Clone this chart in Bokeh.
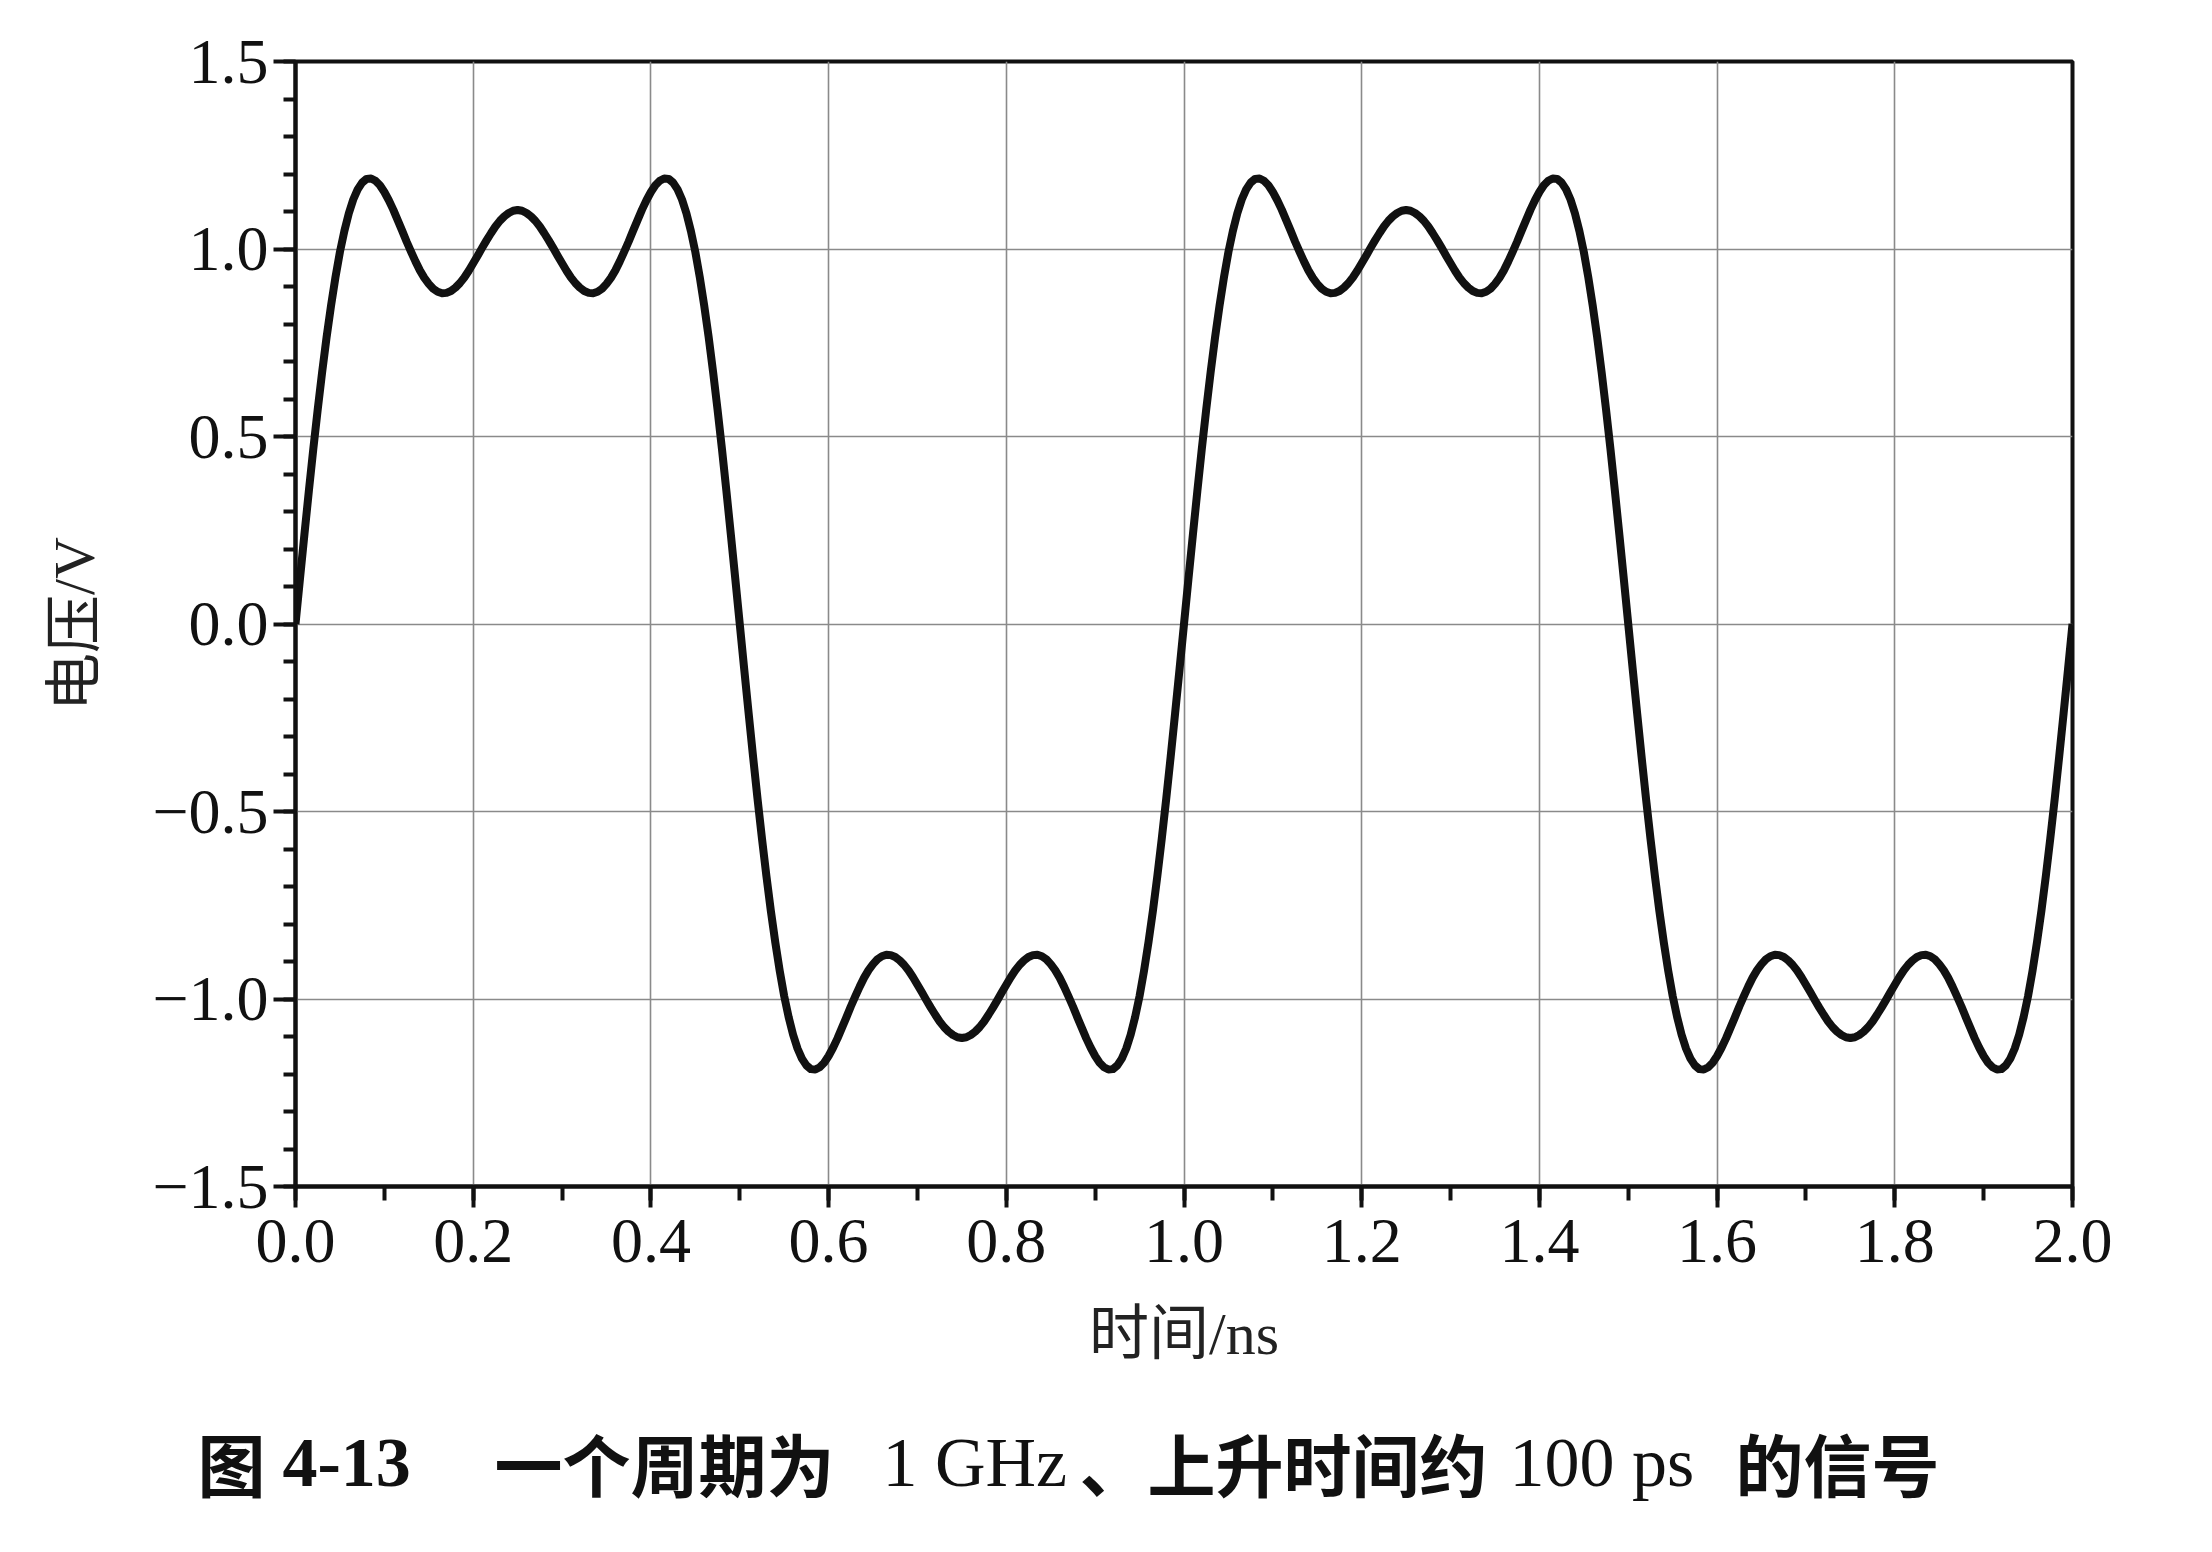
from bokeh.plotting import figure
from bokeh.models import SingleIntervalTicker, Range1d
from bokeh.layouts import column
from bokeh.core.properties import value
from bokeh.embed import file_html
from bokeh.resources import INLINE

# ---- data (time in ns, voltage in V) ----
time_ns = [
    0.000, 0.005, 0.010, 0.015, 0.020, 0.025, 0.030, 0.035, 0.040, 0.045,
    0.050, 0.055, 0.060, 0.065, 0.070, 0.075, 0.080, 0.085, 0.090, 0.095,
    0.100, 0.105, 0.110, 0.115, 0.120, 0.125, 0.130, 0.135, 0.140, 0.145,
    0.150, 0.155, 0.160, 0.165, 0.170, 0.175, 0.180, 0.185, 0.190, 0.195,
    0.200, 0.205, 0.210, 0.215, 0.220, 0.225, 0.230, 0.235, 0.240, 0.245,
    0.250, 0.255, 0.260, 0.265, 0.270, 0.275, 0.280, 0.285, 0.290, 0.295,
    0.300, 0.305, 0.310, 0.315, 0.320, 0.325, 0.330, 0.335, 0.340, 0.345,
    0.350, 0.355, 0.360, 0.365, 0.370, 0.375, 0.380, 0.385, 0.390, 0.395,
    0.400, 0.405, 0.410, 0.415, 0.420, 0.425, 0.430, 0.435, 0.440, 0.445,
    0.450, 0.455, 0.460, 0.465, 0.470, 0.475, 0.480, 0.485, 0.490, 0.495,
    0.500, 0.505, 0.510, 0.515, 0.520, 0.525, 0.530, 0.535, 0.540, 0.545,
    0.550, 0.555, 0.560, 0.565, 0.570, 0.575, 0.580, 0.585, 0.590, 0.595,
    0.600, 0.605, 0.610, 0.615, 0.620, 0.625, 0.630, 0.635, 0.640, 0.645,
    0.650, 0.655, 0.660, 0.665, 0.670, 0.675, 0.680, 0.685, 0.690, 0.695,
    0.700, 0.705, 0.710, 0.715, 0.720, 0.725, 0.730, 0.735, 0.740, 0.745,
    0.750, 0.755, 0.760, 0.765, 0.770, 0.775, 0.780, 0.785, 0.790, 0.795,
    0.800, 0.805, 0.810, 0.815, 0.820, 0.825, 0.830, 0.835, 0.840, 0.845,
    0.850, 0.855, 0.860, 0.865, 0.870, 0.875, 0.880, 0.885, 0.890, 0.895,
    0.900, 0.905, 0.910, 0.915, 0.920, 0.925, 0.930, 0.935, 0.940, 0.945,
    0.950, 0.955, 0.960, 0.965, 0.970, 0.975, 0.980, 0.985, 0.990, 0.995,
    1.000, 1.005, 1.010, 1.015, 1.020, 1.025, 1.030, 1.035, 1.040, 1.045,
    1.050, 1.055, 1.060, 1.065, 1.070, 1.075, 1.080, 1.085, 1.090, 1.095,
    1.100, 1.105, 1.110, 1.115, 1.120, 1.125, 1.130, 1.135, 1.140, 1.145,
    1.150, 1.155, 1.160, 1.165, 1.170, 1.175, 1.180, 1.185, 1.190, 1.195,
    1.200, 1.205, 1.210, 1.215, 1.220, 1.225, 1.230, 1.235, 1.240, 1.245,
    1.250, 1.255, 1.260, 1.265, 1.270, 1.275, 1.280, 1.285, 1.290, 1.295,
    1.300, 1.305, 1.310, 1.315, 1.320, 1.325, 1.330, 1.335, 1.340, 1.345,
    1.350, 1.355, 1.360, 1.365, 1.370, 1.375, 1.380, 1.385, 1.390, 1.395,
    1.400, 1.405, 1.410, 1.415, 1.420, 1.425, 1.430, 1.435, 1.440, 1.445,
    1.450, 1.455, 1.460, 1.465, 1.470, 1.475, 1.480, 1.485, 1.490, 1.495,
    1.500, 1.505, 1.510, 1.515, 1.520, 1.525, 1.530, 1.535, 1.540, 1.545,
    1.550, 1.555, 1.560, 1.565, 1.570, 1.575, 1.580, 1.585, 1.590, 1.595,
    1.600, 1.605, 1.610, 1.615, 1.620, 1.625, 1.630, 1.635, 1.640, 1.645,
    1.650, 1.655, 1.660, 1.665, 1.670, 1.675, 1.680, 1.685, 1.690, 1.695,
    1.700, 1.705, 1.710, 1.715, 1.720, 1.725, 1.730, 1.735, 1.740, 1.745,
    1.750, 1.755, 1.760, 1.765, 1.770, 1.775, 1.780, 1.785, 1.790, 1.795,
    1.800, 1.805, 1.810, 1.815, 1.820, 1.825, 1.830, 1.835, 1.840, 1.845,
    1.850, 1.855, 1.860, 1.865, 1.870, 1.875, 1.880, 1.885, 1.890, 1.895,
    1.900, 1.905, 1.910, 1.915, 1.920, 1.925, 1.930, 1.935, 1.940, 1.945,
    1.950, 1.955, 1.960, 1.965, 1.970, 1.975, 1.980, 1.985, 1.990, 1.995,
    2.000,
]

voltage_v = [
    0.000, 0.120, 0.238, 0.354, 0.466, 0.572, 0.672, 0.765, 0.849, 0.925,
    0.992, 1.048, 1.095, 1.132, 1.159, 1.177, 1.187, 1.188, 1.182, 1.170,
    1.152, 1.130, 1.105, 1.077, 1.049, 1.020, 0.993, 0.967, 0.943, 0.923,
    0.907, 0.894, 0.886, 0.882, 0.883, 0.888, 0.897, 0.909, 0.924, 0.942,
    0.962, 0.982, 1.003, 1.023, 1.042, 1.060, 1.075, 1.087, 1.096, 1.102,
    1.104, 1.102, 1.096, 1.087, 1.075, 1.060, 1.042, 1.023, 1.003, 0.982,
    0.962, 0.942, 0.924, 0.909, 0.897, 0.888, 0.883, 0.882, 0.886, 0.894,
    0.907, 0.923, 0.943, 0.967, 0.993, 1.020, 1.049, 1.077, 1.105, 1.130,
    1.152, 1.170, 1.182, 1.188, 1.187, 1.177, 1.159, 1.132, 1.095, 1.048,
    0.992, 0.925, 0.849, 0.765, 0.672, 0.572, 0.466, 0.354, 0.238, 0.120,
    0.000, -0.120, -0.238, -0.354, -0.466, -0.572, -0.672, -0.765, -0.849, -0.925,
    -0.992, -1.048, -1.095, -1.132, -1.159, -1.177, -1.187, -1.188, -1.182, -1.170,
    -1.152, -1.130, -1.105, -1.077, -1.049, -1.020, -0.993, -0.967, -0.943, -0.923,
    -0.907, -0.894, -0.886, -0.882, -0.883, -0.888, -0.897, -0.909, -0.924, -0.942,
    -0.962, -0.982, -1.003, -1.023, -1.042, -1.060, -1.075, -1.087, -1.096, -1.102,
    -1.104, -1.102, -1.096, -1.087, -1.075, -1.060, -1.042, -1.023, -1.003, -0.982,
    -0.962, -0.942, -0.924, -0.909, -0.897, -0.888, -0.883, -0.882, -0.886, -0.894,
    -0.907, -0.923, -0.943, -0.967, -0.993, -1.020, -1.049, -1.077, -1.105, -1.130,
    -1.152, -1.170, -1.182, -1.188, -1.187, -1.177, -1.159, -1.132, -1.095, -1.048,
    -0.992, -0.925, -0.849, -0.765, -0.672, -0.572, -0.466, -0.354, -0.238, -0.120,
    0.000, 0.120, 0.238, 0.354, 0.466, 0.572, 0.672, 0.765, 0.849, 0.925,
    0.992, 1.048, 1.095, 1.132, 1.159, 1.177, 1.187, 1.188, 1.182, 1.170,
    1.152, 1.130, 1.105, 1.077, 1.049, 1.020, 0.993, 0.967, 0.943, 0.923,
    0.907, 0.894, 0.886, 0.882, 0.883, 0.888, 0.897, 0.909, 0.924, 0.942,
    0.962, 0.982, 1.003, 1.023, 1.042, 1.060, 1.075, 1.087, 1.096, 1.102,
    1.104, 1.102, 1.096, 1.087, 1.075, 1.060, 1.042, 1.023, 1.003, 0.982,
    0.962, 0.942, 0.924, 0.909, 0.897, 0.888, 0.883, 0.882, 0.886, 0.894,
    0.907, 0.923, 0.943, 0.967, 0.993, 1.020, 1.049, 1.077, 1.105, 1.130,
    1.152, 1.170, 1.182, 1.188, 1.187, 1.177, 1.159, 1.132, 1.095, 1.048,
    0.992, 0.925, 0.849, 0.765, 0.672, 0.572, 0.466, 0.354, 0.238, 0.120,
    0.000, -0.120, -0.238, -0.354, -0.466, -0.572, -0.672, -0.765, -0.849, -0.925,
    -0.992, -1.048, -1.095, -1.132, -1.159, -1.177, -1.187, -1.188, -1.182, -1.170,
    -1.152, -1.130, -1.105, -1.077, -1.049, -1.020, -0.993, -0.967, -0.943, -0.923,
    -0.907, -0.894, -0.886, -0.882, -0.883, -0.888, -0.897, -0.909, -0.924, -0.942,
    -0.962, -0.982, -1.003, -1.023, -1.042, -1.060, -1.075, -1.087, -1.096, -1.102,
    -1.104, -1.102, -1.096, -1.087, -1.075, -1.060, -1.042, -1.023, -1.003, -0.982,
    -0.962, -0.942, -0.924, -0.909, -0.897, -0.888, -0.883, -0.882, -0.886, -0.894,
    -0.907, -0.923, -0.943, -0.967, -0.993, -1.020, -1.049, -1.077, -1.105, -1.130,
    -1.152, -1.170, -1.182, -1.188, -1.187, -1.177, -1.159, -1.132, -1.095, -1.048,
    -0.992, -0.925, -0.849, -0.765, -0.672, -0.572, -0.466, -0.354, -0.238, -0.120,
    0.000,
]

x_tick_values = [0.0, 0.2, 0.4, 0.6, 0.8, 1.0, 1.2, 1.4, 1.6, 1.8, 2.0]
x_tick_labels = ["0.0", "0.2", "0.4", "0.6", "0.8", "1.0", "1.2", "1.4", "1.6", "1.8", "2.0"]
y_tick_values = [-1.5, -1.0, -0.5, 0.0, 0.5, 1.0, 1.5]
y_tick_labels = ["\u22121.5", "\u22121.0", "\u22120.5", "0.0", "0.5", "1.0", "1.5"]

x_label = "时间/ns"
y_label = "电压/V"
caption_parts = ["图", "4-13", "一个周期为", "1 GHz", "、上升时间约", "100 ps", "的信号"]

SERIF = "Liberation Serif"
CJK = "Noto Sans CJK SC"

W = 2196
H_MAIN = 1405
H_CAP = 140

p = figure(width=W, height=H_MAIN, output_backend="svg", toolbar_location=None,
           x_range=Range1d(0, 2.0), y_range=Range1d(-1.5, 1.5),
           min_border_left=295, min_border_right=124, min_border_top=61,
           min_border_bottom=H_MAIN - 1186, background_fill_color="white",
           border_fill_color="white")
p.frame_align = False

p.line(time_ns, voltage_v, line_width=8, line_color="#111111", line_join="round")

xt = SingleIntervalTicker(interval=0.2, num_minor_ticks=2)
yt = SingleIntervalTicker(interval=0.5, num_minor_ticks=5)
p.xaxis.ticker = xt
p.yaxis.ticker = yt
p.xgrid.ticker = xt
p.ygrid.ticker = yt
p.xaxis.major_label_overrides = dict(zip(x_tick_values, x_tick_labels))
p.yaxis.major_label_overrides = dict(zip(y_tick_values, y_tick_labels))

for g in (p.xgrid, p.ygrid):
    g.grid_line_color = "#8a8a8a"
    g.grid_line_width = 1.6
    g.grid_line_alpha = 1.0

for ax in (p.xaxis, p.yaxis):
    ax.axis_line_width = 4
    ax.axis_line_color = "#111111"
    ax.major_tick_line_width = 4
    ax.minor_tick_line_width = 4
    ax.major_tick_line_color = "#111111"
    ax.minor_tick_line_color = "#111111"
    ax.major_tick_in = 0
    ax.minor_tick_in = 0
    ax.major_label_text_font = SERIF
    ax.major_label_text_font_size = "64px"
    ax.major_label_text_color = "#111111"
    ax.axis_label_text_font = SERIF + ", " + CJK
    ax.axis_label_text_font_style = "normal"
    ax.axis_label_text_color = "#222222"

p.xaxis.major_tick_out = 21
p.xaxis.minor_tick_out = 14
p.yaxis.major_tick_out = 22
p.yaxis.minor_tick_out = 12
p.xaxis.major_label_standoff = 12
p.yaxis.major_label_standoff = 5

p.xaxis.axis_label = x_label
p.yaxis.axis_label = y_label
p.xaxis.axis_label_text_font_size = "60px"
p.yaxis.axis_label_text_font_size = "58px"
p.xaxis.axis_label_standoff = 36
p.yaxis.axis_label_standoff = 42

p.outline_line_color = "#111111"
p.outline_line_width = 4
p.outline_line_alpha = 1.0

# ---- caption strip below the chart (pixel coordinates of this strip) ----
cap = figure(width=W, height=H_CAP, output_backend="svg", toolbar_location=None,
             x_range=Range1d(0, W), y_range=Range1d(0, H_CAP),
             x_axis_type=None, y_axis_type=None, min_border=0,
             outline_line_color=None, background_fill_color="white",
             border_fill_color="white")
cap.frame_align = False
cap.grid.visible = False

caption_x = [197, 282, 494, 882, 1079, 1509, 1735]
caption_font = [CJK, SERIF, CJK, SERIF, CJK, SERIF, CJK]
caption_style = ["bold", "bold", "bold", "normal", "bold", "normal", "bold"]
caption_size = ["68px", "70px", "68px", "70px", "68px", "70px", "68px"]
caption_y = H_CAP - 57
for txt, cx, fnt, sty, sz in zip(caption_parts, caption_x, caption_font, caption_style, caption_size):
    cap.text(x=[cx], y=[caption_y], text=[txt], text_font=value(fnt),
             text_font_style=sty, text_font_size=sz, text_baseline="middle",
             text_align="left", text_color="#111111")

layout = column(p, cap, spacing=0)
open("out.html", "w").write(file_html(layout, INLINE))
